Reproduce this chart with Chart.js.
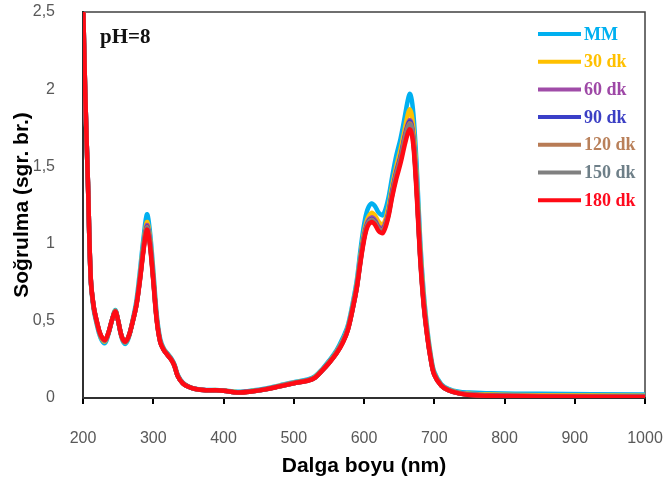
<!DOCTYPE html>
<html>
<head>
<meta charset="utf-8">
<script src="https://cdn.jsdelivr.net/npm/chart.js@4.4.1/dist/chart.umd.min.js"></script>
<style>
  body { margin: 0; background: #fff; }
  #wrap { width: 665px; height: 491px; }
</style>
</head>
<body>
<div id="wrap"><canvas id="spectraChart" width="665" height="491"></canvas></div>
<script>
// dalga boyu (nm)
const wavelengths = [
  200, 203, 207, 211, 215, 220, 225, 231, 236, 241,
  246, 250, 255, 260, 265, 270, 276, 281, 286, 291,
  295, 300, 305, 310, 315, 320, 326, 330, 335, 342,
  350, 360, 375, 390, 400, 420, 440, 460, 480, 500,
  520, 530, 541, 550, 561, 570, 577, 585, 590, 595,
  600, 605, 611, 616, 621, 627, 634, 640, 646, 652,
  658, 662, 665, 668, 671, 675, 680, 685, 690, 695,
  700, 710, 720, 735, 750, 780, 850, 1000
];

const absMM = [
  2.6, 2.0, 1.4, 0.77, 0.58, 0.47, 0.39, 0.355, 0.41, 0.5,
  0.57, 0.5, 0.39, 0.35, 0.39, 0.49, 0.63, 0.82, 1.03, 1.19,
  1.09, 0.83, 0.54, 0.38, 0.32, 0.29, 0.255, 0.22, 0.15, 0.1,
  0.075, 0.06, 0.052, 0.052, 0.049, 0.04, 0.048, 0.062, 0.082, 0.102,
  0.12, 0.14, 0.19, 0.24, 0.31, 0.39, 0.47, 0.64, 0.77, 0.96,
  1.12, 1.22, 1.26, 1.24, 1.2, 1.185, 1.28, 1.43, 1.57, 1.68,
  1.82, 1.92, 1.97, 1.93, 1.8, 1.5, 1.02, 0.68, 0.45, 0.28,
  0.17, 0.09, 0.06, 0.04, 0.035, 0.03, 0.027, 0.022
];
const abs30 = [
  2.6, 2.0, 1.4, 0.77, 0.59, 0.48, 0.4, 0.365, 0.415, 0.5,
  0.565, 0.5, 0.395, 0.36, 0.395, 0.485, 0.61, 0.79, 0.99, 1.14,
  1.05, 0.8, 0.52, 0.37, 0.315, 0.285, 0.25, 0.215, 0.145, 0.098,
  0.074, 0.059, 0.051, 0.051, 0.048, 0.038, 0.045, 0.059, 0.079, 0.099,
  0.116, 0.135, 0.185, 0.232, 0.3, 0.375, 0.455, 0.62, 0.745, 0.92,
  1.07, 1.16, 1.2, 1.18, 1.14, 1.12, 1.22, 1.37, 1.5, 1.61,
  1.74, 1.83, 1.87, 1.83, 1.71, 1.42, 0.97, 0.65, 0.43, 0.27,
  0.16, 0.085, 0.055, 0.035, 0.027, 0.022, 0.018, 0.014
];
const abs60 = [
  2.6, 2.0, 1.4, 0.775, 0.595, 0.485, 0.405, 0.37, 0.418, 0.5,
  0.562, 0.5, 0.398, 0.362, 0.398, 0.482, 0.605, 0.775, 0.97, 1.12,
  1.03, 0.78, 0.51, 0.365, 0.312, 0.282, 0.248, 0.212, 0.142, 0.096,
  0.074, 0.059, 0.05, 0.05, 0.047, 0.036, 0.043, 0.057, 0.077, 0.097,
  0.114, 0.132, 0.182, 0.228, 0.295, 0.368, 0.448, 0.61, 0.73, 0.9,
  1.05, 1.14, 1.17, 1.15, 1.11, 1.1, 1.19, 1.34, 1.47, 1.57,
  1.7, 1.77, 1.8, 1.77, 1.65, 1.37, 0.93, 0.62, 0.41, 0.26,
  0.155, 0.082, 0.052, 0.032, 0.023, 0.017, 0.013, 0.01
];
const abs90 = [
  2.6, 2.0, 1.4, 0.775, 0.597, 0.487, 0.407, 0.372, 0.419, 0.5,
  0.561, 0.5, 0.399, 0.363, 0.399, 0.481, 0.603, 0.77, 0.965, 1.11,
  1.02, 0.775, 0.508, 0.363, 0.311, 0.281, 0.247, 0.211, 0.141, 0.096,
  0.073, 0.058, 0.05, 0.05, 0.047, 0.036, 0.043, 0.057, 0.076, 0.096,
  0.113, 0.131, 0.181, 0.227, 0.293, 0.365, 0.445, 0.606, 0.726, 0.895,
  1.04, 1.13, 1.16, 1.14, 1.1, 1.09, 1.18, 1.33, 1.46, 1.56,
  1.69, 1.76, 1.79, 1.76, 1.64, 1.36, 0.92, 0.615, 0.41, 0.255,
  0.153, 0.081, 0.051, 0.031, 0.022, 0.016, 0.012, 0.009
];
const abs120 = [
  2.6, 2.0, 1.4, 0.778, 0.598, 0.488, 0.408, 0.373, 0.42, 0.5,
  0.561, 0.5, 0.4, 0.364, 0.4, 0.481, 0.602, 0.768, 0.962, 1.105,
  1.015, 0.77, 0.505, 0.362, 0.311, 0.281, 0.246, 0.211, 0.141, 0.095,
  0.073, 0.058, 0.05, 0.05, 0.047, 0.035, 0.042, 0.056, 0.076, 0.096,
  0.113, 0.131, 0.181, 0.226, 0.292, 0.363, 0.443, 0.604, 0.724, 0.89,
  1.035, 1.125, 1.155, 1.135, 1.095, 1.085, 1.175, 1.32, 1.45, 1.55,
  1.68, 1.75, 1.78, 1.75, 1.63, 1.35, 0.915, 0.61, 0.405, 0.253,
  0.152, 0.081, 0.051, 0.031, 0.021, 0.015, 0.011, 0.008
];
const abs150 = [
  2.6, 2.0, 1.4, 0.779, 0.599, 0.489, 0.409, 0.374, 0.42, 0.5,
  0.56, 0.5, 0.4, 0.364, 0.4, 0.48, 0.601, 0.765, 0.958, 1.1,
  1.01, 0.766, 0.503, 0.361, 0.31, 0.28, 0.246, 0.21, 0.14, 0.095,
  0.073, 0.058, 0.05, 0.05, 0.047, 0.035, 0.042, 0.056, 0.075, 0.095,
  0.112, 0.13, 0.18, 0.225, 0.291, 0.362, 0.441, 0.602, 0.722, 0.885,
  1.03, 1.12, 1.15, 1.13, 1.09, 1.08, 1.17, 1.31, 1.44, 1.54,
  1.67, 1.74, 1.77, 1.74, 1.62, 1.34, 0.91, 0.605, 0.403, 0.252,
  0.151, 0.08, 0.05, 0.03, 0.021, 0.015, 0.011, 0.007
];
const abs180 = [
  2.6, 2.0, 1.4, 0.78, 0.6, 0.49, 0.41, 0.375, 0.42, 0.5,
  0.56, 0.5, 0.4, 0.365, 0.4, 0.48, 0.6, 0.76, 0.95, 1.09,
  1.0, 0.76, 0.5, 0.36, 0.31, 0.28, 0.245, 0.21, 0.14, 0.095,
  0.073, 0.058, 0.05, 0.05, 0.047, 0.035, 0.042, 0.056, 0.075, 0.095,
  0.112, 0.13, 0.18, 0.225, 0.29, 0.36, 0.44, 0.6, 0.72, 0.88,
  1.02, 1.11, 1.14, 1.12, 1.08, 1.07, 1.16, 1.3, 1.42, 1.52,
  1.64, 1.71, 1.74, 1.71, 1.6, 1.32, 0.9, 0.6, 0.4, 0.25,
  0.15, 0.08, 0.05, 0.03, 0.02, 0.014, 0.01, 0.006
];

const seriesLabels = ['MM', '30 dk', '60 dk', '90 dk', '120 dk', '150 dk', '180 dk'];
const seriesValues = [absMM, abs30, abs60, abs90, abs120, abs150, abs180];
const lineColors = ['#00B0F0', '#FFC000', '#A04CA8', '#3A3FC8', '#B87B55', '#808080', '#FF0A14'];
const textColors = ['#00B0F0', '#FFC000', '#9E48A6', '#3B3FC4', '#B9805A', '#6E7F88', '#FF0A1E'];
const xTicks = ['200', '300', '400', '500', '600', '700', '800', '900', '1000'];
const yTicks = ['0', '0,5', '1', '1,5', '2', '2,5'];

const datasets = seriesLabels.map((label, i) => ({
    label: label,
    data: wavelengths.map((w, j) => ({ x: w, y: seriesValues[i][j] })),
    borderColor: lineColors[i],
    borderWidth: 4.5,
    pointRadius: 0,
    tension: 0.35,
    fill: false,
    order: seriesLabels.length - i // red (180 dk) on top
}));

// plot frame, pH label and in-plot legend
const framePlugin = {
    id: 'frame',
    beforeDatasetsDraw(chart) {
        const { ctx, chartArea: a } = chart;
        ctx.save();
        ctx.strokeStyle = '#404040';
        ctx.lineWidth = 1.5;
        ctx.strokeRect(a.left, a.top, a.right - a.left, a.bottom - a.top);
        ctx.restore();
    },
    afterDraw(chart) {
        const { ctx } = chart;
        ctx.save();
        ctx.font = 'bold 21px "Liberation Serif"';
        ctx.fillStyle = '#111';
        ctx.textBaseline = 'middle';
        ctx.fillText('pH=8', 100, 38);

        ctx.font = 'bold 18px "Liberation Serif"';
        seriesLabels.forEach((label, i) => {
            const y = 34 + i * 27.7;
            ctx.strokeStyle = lineColors[i];
            ctx.lineWidth = 4;
            ctx.beginPath();
            ctx.moveTo(538, y);
            ctx.lineTo(581, y);
            ctx.stroke();
            ctx.fillStyle = textColors[i];
            ctx.fillText(label, 584, y + 1);
        });
        ctx.restore();
    }
};

new Chart(document.getElementById('spectraChart'), {
    type: 'line',
    data: { datasets: datasets },
    plugins: [framePlugin],
    options: {
        responsive: false,
        animation: false,
        layout: { padding: { top: 12, right: 20, left: 0, bottom: 0 } },
        plugins: { legend: { display: false }, tooltip: { enabled: false } },
        scales: {
            x: {
                type: 'linear',
                min: 200,
                max: 1000,
                afterFit: s => { s.height = 93; s.paddingLeft = 0; s.paddingRight = 0; },
                afterBuildTicks: s => { s.ticks = xTicks.map(t => ({ value: Number(t) })); },
                grid: { drawOnChartArea: false, drawTicks: true, tickLength: 6, color: '#000', lineWidth: 2 },
                border: { display: true, color: '#000', width: 2 },
                ticks: {
                    color: '#595959',
                    padding: 25,
                    font: { family: '"Liberation Sans"', size: 16 },
                    callback: (v, i) => xTicks[i]
                },
                title: {
                    display: true,
                    text: 'Dalga boyu (nm)',
                    color: '#000',
                    font: { family: '"Liberation Sans"', size: 21, weight: 'bold' },
                    padding: { top: 0, bottom: 12 }
                }
            },
            y: {
                min: 0,
                max: 2.5,
                afterFit: s => { s.width = 83; s.paddingTop = 0; s.paddingBottom = 0; },
                afterBuildTicks: s => { s.ticks = yTicks.map((t, i) => ({ value: i * 0.5 })); },
                grid: { display: false },
                border: { display: true, color: '#000', width: 2 },
                ticks: {
                    color: '#595959',
                    padding: 20,
                    font: { family: '"Liberation Sans"', size: 16 },
                    callback: (v, i) => yTicks[i]
                },
                title: {
                    display: true,
                    text: 'Soğrulma (sgr. br.)',
                    color: '#000',
                    font: { family: '"Liberation Sans"', size: 21, weight: 'bold' },
                    padding: { top: 10, bottom: 0 }
                }
            }
        }
    }
});
</script>
</body>
</html>
